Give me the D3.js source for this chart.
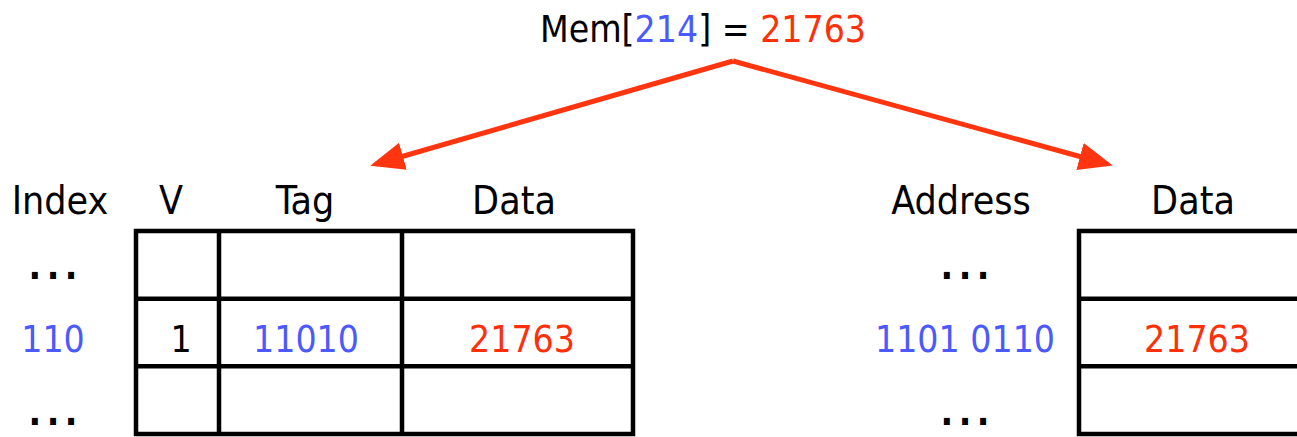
<!DOCTYPE html>
<html>
<head>
<meta charset="utf-8">
<script src="https://cdn.jsdelivr.net/npm/d3@7"></script>
<style>
  body { margin: 0; background: #fff; }
  text { font-family: "DejaVu Sans Condensed", "DejaVu Sans", sans-serif; }
</style>
</head>
<body>
<div id="chart"></div>
<script>
// cache lookup diagram: Mem[214] = 21763
const titleParts = [["Mem[", "k"], ["214", "b"], ["] = ", "k"], ["21763", "r"]];

const cacheHeaders = ["V", "Tag", "Data"];
const cacheIndex = [["...", "k"], ["110", "b"], ["...", "k"]];
const cacheCells = [
  [["", "k"], ["", "k"], ["", "k"]],
  [["1", "k"], ["11010", "b"], ["21763", "r"]],
  [["", "k"], ["", "k"], ["", "k"]]
];

const memHeaders = ["Address", "Data"];
const memAddress = [["...", "k"], ["1101 0110", "b"], ["...", "k"]];
const memCells = [["", "k"], ["21763", "r"], ["", "k"]];

const colors = { k: "#000", b: "#4a5aff", r: "#ff2f0a" };
const arrowColor = "#ff3510";

const width = 1297, height = 437;
const fontSize = 37;
const headSize = 39;

const svg = d3.select("#chart")
  .append("svg")
  .attr("width", width)
  .attr("height", height);

// rows shared by both tables
const yScale = d3.scaleBand()
  .domain(d3.range(3))
  .range([231, 434]);

// text baselines for the three rows
const lineY = d3.scaleLinear().domain([0, 2]).range([279, 425]);

// cache column edges
const cacheEdges = [136, 219, 402, 633];

const memLeft = 1079, memRight = 1320;

// title
const title = svg.append("text")
  .attr("x", 703)
  .attr("y", 42)
  .attr("text-anchor", "middle")
  .attr("font-size", fontSize);
title.selectAll("tspan")
  .data(titleParts)
  .enter()
  .append("tspan")
  .attr("fill", d => colors[d[1]])
  .text(d => d[0]);

// arrows
const defs = svg.append("defs");
defs.append("marker")
  .attr("id", "head")
  .attr("markerUnits", "userSpaceOnUse")
  .attr("markerWidth", 34)
  .attr("markerHeight", 28)
  .attr("refX", 28)
  .attr("refY", 14)
  .attr("orient", "auto")
  .append("path")
  .attr("d", "M0,0 L34,14 L0,28 Z")
  .attr("fill", arrowColor);

const apex = [733, 61];
const tips = [[376, 164], [1107, 164]];
svg.selectAll("line.arrow")
  .data(tips)
  .enter()
  .append("line")
  .attr("class", "arrow")
  .attr("x1", apex[0])
  .attr("y1", apex[1])
  .attr("x2", d => d[0])
  .attr("y2", d => d[1])
  .attr("stroke", arrowColor)
  .attr("stroke-width", 5)
  .attr("marker-end", "url(#head)");

// headers
const headerY = 214;
svg.append("text")
  .attr("x", 60).attr("y", headerY)
  .attr("text-anchor", "middle")
  .attr("font-size", headSize)
  .text("Index");

svg.selectAll("text.chead")
  .data(cacheHeaders)
  .enter()
  .append("text")
  .attr("class", "chead")
  .attr("x", (d, i) => [171, 305, 514][i])
  .attr("y", headerY)
  .attr("text-anchor", "middle")
  .attr("font-size", headSize)
  .text(d => d);

svg.selectAll("text.mhead")
  .data(memHeaders)
  .enter()
  .append("text")
  .attr("class", "mhead")
  .attr("x", (d, i) => [961, 1193][i])
  .attr("y", headerY)
  .attr("text-anchor", "middle")
  .attr("font-size", headSize)
  .text(d => d);

// cache grid
const grid = svg.append("g")
  .attr("fill", "none")
  .attr("stroke", "#000")
  .attr("stroke-width", 4.5);

grid.append("rect")
  .attr("x", cacheEdges[0])
  .attr("y", yScale.range()[0])
  .attr("width", cacheEdges[3] - cacheEdges[0])
  .attr("height", yScale.range()[1] - yScale.range()[0]);

grid.selectAll("line.cv")
  .data(cacheEdges.slice(1, 3))
  .enter()
  .append("line")
  .attr("x1", d => d).attr("x2", d => d)
  .attr("y1", yScale.range()[0]).attr("y2", yScale.range()[1]);

grid.selectAll("line.ch")
  .data([1, 2])
  .enter()
  .append("line")
  .attr("x1", cacheEdges[0]).attr("x2", cacheEdges[3])
  .attr("y1", d => yScale(d)).attr("y2", d => yScale(d));

// memory grid
grid.append("rect")
  .attr("x", memLeft)
  .attr("y", yScale.range()[0])
  .attr("width", memRight - memLeft)
  .attr("height", yScale.range()[1] - yScale.range()[0]);

grid.selectAll("line.mh")
  .data([1, 2])
  .enter()
  .append("line")
  .attr("x1", memLeft).attr("x2", memRight)
  .attr("y1", d => yScale(d)).attr("y2", d => yScale(d));

// row text
function rowText(cls, rows, x) {
  svg.selectAll("text." + cls)
    .data(rows)
    .enter()
    .append("text")
    .attr("class", cls)
    .attr("x", x)
    .attr("y", (d, i) => lineY(i))
    .attr("text-anchor", "middle")
    .attr("font-size", fontSize)
    .attr("font-weight", d => d[0] === "..." ? "bold" : null)
    .attr("letter-spacing", d => d[0] === "..." ? 5.5 : null)
    .attr("dx", d => d[0] === "..." ? 2.75 : 0)
    .attr("fill", d => colors[d[1]])
    .text(d => d[0]);
}

rowText("idx", cacheIndex, 53);
rowText("addr", memAddress, 965);
rowText("mcell", memCells, 1197);

const colX = [181, 306, 522];
cacheCells.forEach((row, r) => {
  svg.selectAll("text.cc" + r)
    .data(row)
    .enter()
    .append("text")
    .attr("class", "cc" + r)
    .attr("x", (d, i) => colX[i])
    .attr("y", lineY(r))
    .attr("text-anchor", "middle")
    .attr("font-size", fontSize)
    .attr("fill", d => colors[d[1]])
    .text(d => d[0]);
});
</script>
</body>
</html>
